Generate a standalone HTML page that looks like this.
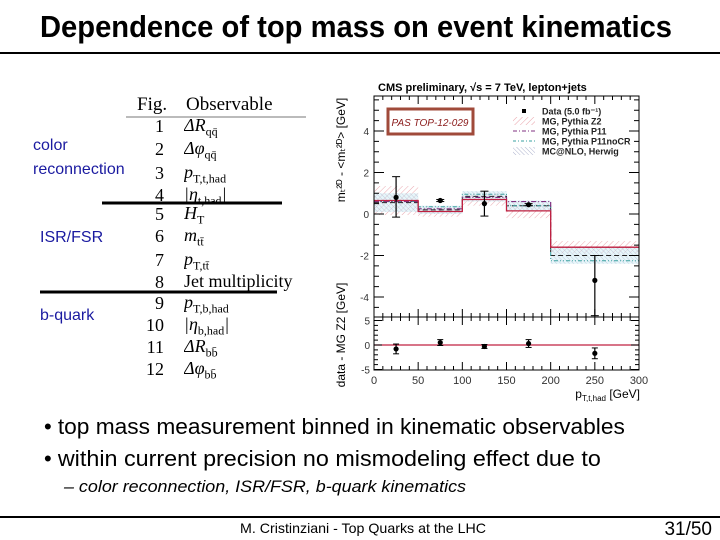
<!DOCTYPE html>
<html><head><meta charset="utf-8"><style>
html,body{margin:0;padding:0;background:#fff}
svg{display:block}
.nar{font-family:"Liberation Sans Narrow","Liberation Sans",sans-serif}
.ser{font-family:"Liberation Serif",serif}
.san{font-family:"Liberation Sans",sans-serif}
</style></head><body>
<svg id="s" width="720" height="540" viewBox="0 0 720 540" xmlns="http://www.w3.org/2000/svg">
<defs>
<pattern id="hatchR" width="4" height="4" patternUnits="userSpaceOnUse" patternTransform="rotate(45)"><line x1="0" y1="0" x2="0" y2="4" stroke="#e8a0a8" stroke-width="1"/></pattern>
<pattern id="hatchB" width="3" height="3" patternUnits="userSpaceOnUse" patternTransform="rotate(-45)"><line x1="0" y1="0" x2="0" y2="3" stroke="#9aa0c0" stroke-width="0.8"/></pattern>
</defs>
<text class="nar" x="356" y="37" font-size="31" font-weight="bold" text-anchor="middle" textLength="632" lengthAdjust="spacingAndGlyphs">Dependence of top mass on event kinematics</text>
<rect x="0" y="52" width="720" height="2" fill="#000"/>

<g class="ser" font-size="18">
<text x="137" y="110" font-size="19">Fig.</text>
<text x="186" y="110" font-size="19">Observable</text>
<line x1="126" y1="117" x2="306" y2="117" stroke="#777" stroke-width="1"/>
<g id="rows"></g>
<line x1="102" y1="203" x2="282" y2="203" stroke="#000" stroke-width="3"/>
<line x1="40" y1="292" x2="277" y2="292" stroke="#000" stroke-width="3"/>
</g>
<g class="san" font-size="16" fill="#1a1aa0">
<text x="33" y="150">color</text>
<text x="33" y="174">reconnection</text>
<text x="40" y="242">ISR/FSR</text>
<text x="40" y="320">b-quark</text>
</g>

<g id="chart" class="san"></g>

<g class="nar" font-size="22">
<text x="44" y="434">• <tspan textLength="567" lengthAdjust="spacingAndGlyphs">top mass measurement binned in kinematic observables</tspan></text>
<text x="44" y="466">• <tspan textLength="543" lengthAdjust="spacingAndGlyphs">within current precision no mismodeling effect due to</tspan></text>
<text x="64" y="492" font-size="17" font-style="italic" textLength="402" lengthAdjust="spacingAndGlyphs">– color reconnection, ISR/FSR, b-quark kinematics</text>
</g>
<rect x="0" y="516" width="720" height="2" fill="#000"/>
<text class="nar" x="363" y="533" font-size="14" text-anchor="middle" textLength="246" lengthAdjust="spacingAndGlyphs">M. Cristinziani - Top Quarks at the LHC</text>
<text class="nar" x="712" y="535" font-size="19" text-anchor="end">31/50</text>
</svg>
<script>
const NS="http://www.w3.org/2000/svg";
const rowNums=["1","2","3","4","5","6","7","8","9","10","11","12"];
const rowObs=["ΔR<sub>qq̄</sub>","Δφ<sub>qq̄</sub>","p<sub>T,t,had</sub>","|η<sub>t,had</sub>|","H<sub>T</sub>","m<sub>tt̄</sub>","p<sub>T,tt̄</sub>","Jet multiplicity","p<sub>T,b,had</sub>","|η<sub>b,had</sub>|","ΔR<sub>bb̄</sub>","Δφ<sub>bb̄</sub>"];
const rowY=[132,155,179,201,220,242,266,288,309,331,353,375];

// chart data
const bins=[0,50,100,150,200,300];
const z2=[0.65,0.12,0.7,0.15,-1.6];
const z2Err=[0.7,0.25,0.3,0.35,0.3];
const p11=[0.6,0.25,0.8,0.6,-1.6];
const p11nocr=[0.6,0.35,0.95,0.4,-2.25];
const herwig=[0.55,0.2,0.85,0.4,-2.0];
const herwigErr=[0.45,0.2,0.25,0.25,0.4];
const dataX=[25,75,125,175,250];
const dataY=[0.8,0.65,0.5,0.45,-3.2];
const dataErrHi=[1.0,0.05,0.6,0.05,1.2];
const dataErrLo=[0.95,0.05,0.6,0.05,1.7];
const ratioY=[-0.8,0.5,-0.3,0.3,-1.7];
const ratioErr=[1.0,0.6,0.4,0.8,1.1];
const xTicks=[0,50,100,150,200,250,300];
const yTicks=[-4,-2,0,2,4];
const rTicks=[-5,0,5];

function el(t,a,p){const e=document.createElementNS(NS,t);for(const k in a)e.setAttribute(k,a[k]);(p||document.getElementById('chart')).appendChild(e);return e;}
const rows=document.getElementById('rows');
rowNums.forEach((n,i)=>{
 const t=el('text',{x:164,y:rowY[i],'text-anchor':'end'},rows);t.textContent=n;
 
 
 const f=el('foreignObject',{x:184,y:rowY[i]-17,width:130,height:24},rows);
 
 
 f.innerHTML='<div xmlns="http://www.w3.org/1999/xhtml" style="font:italic 18px \'Liberation Serif\',serif;line-height:20px;white-space:nowrap">'+rowObs[i].replace(/<sub>/g,'<sub style="font-size:12px;font-style:normal">')+'</div>';
 if(i===7)f.firstChild.style.fontStyle='normal';
});

const X0=374,X1=639;
const sx=v=>X0+(v-0)*(X1-X0)/300;
const sy=v=>214-v*20.75;
const ry=v=>345-v*4.9;
const TOP=96,MID=317,BOT=370;
const c=document.getElementById('chart');
let t=el('text',{x:378,y:91,'font-size':11,'font-weight':'bold'});t.textContent="CMS preliminary,  √s = 7 TeV, lepton+jets";


// bands and lines
for(let i=0;i<5;i++){
 const a=sx(bins[i]),b=sx(bins[i+1]);
 let r=el('rect',{x:a,y:sy(z2[i]+z2Err[i]),width:b-a,height:sy(z2[i]-z2Err[i])-sy(z2[i]+z2Err[i]),fill:'url(#hatchR)',opacity:0.9});
 
 r=el('rect',{x:a,y:sy(herwig[i]+herwigErr[i]),width:b-a,height:sy(herwig[i]-herwigErr[i])-sy(herwig[i]+herwigErr[i]),fill:'#cfeef5',opacity:0.5});
 
 r=el('rect',{x:a,y:sy(herwig[i]+herwigErr[i]),width:b-a,height:sy(herwig[i]-herwigErr[i])-sy(herwig[i]+herwigErr[i]),fill:'url(#hatchB)',opacity:0.6});
 
}
function step(vals,attrs,name){
 let d='';for(let i=0;i<5;i++){d+=(i?'L':'M')+sx(bins[i])+','+sy(vals[i])+'L'+sx(bins[i+1])+','+sy(vals[i]);}
 const p=el('path',Object.assign({d:d,fill:'none'},attrs));
 
}
step(herwig,{stroke:'#222','stroke-width':1,'stroke-dasharray':'5,3'},'herwig-line');
step(p11nocr,{stroke:'#3aa0a0','stroke-width':1,'stroke-dasharray':'4,2,1,2,1,2'},'p11nocr-line');
step(p11,{stroke:'#803080','stroke-width':1.2,'stroke-dasharray':'5,2,1,2'},'p11-line');
step(z2,{stroke:'#c02040','stroke-width':1.3},'z2-line');

// data
dataX.forEach((x,i)=>{
 const hi=Math.min(sy(dataY[i]+dataErrHi[i]),MID),lo=Math.min(sy(dataY[i]-dataErrLo[i]),MID);
 let l=el('line',{x1:sx(x),x2:sx(x),y1:sy(dataY[i]+dataErrHi[i]),y2:lo,stroke:'#000','stroke-width':1.2});
 
 el('line',{x1:sx(x)-4,x2:sx(x)+4,y1:sy(dataY[i]+dataErrHi[i]),y2:sy(dataY[i]+dataErrHi[i]),stroke:'#000'});
 if(sy(dataY[i]-dataErrLo[i])<MID) el('line',{x1:sx(x)-4,x2:sx(x)+4,y1:lo,y2:lo,stroke:'#000'});
 const p=el('circle',{cx:sx(x),cy:sy(dataY[i]),r:2.6,fill:'#000'});
 
});
// ratio
let rl=el('line',{x1:X0,x2:X1,y1:ry(0),y2:ry(0),stroke:'#c02040','stroke-width':1.3});

dataX.forEach((x,i)=>{
 el('line',{x1:sx(x),x2:sx(x),y1:ry(ratioY[i]+ratioErr[i]),y2:ry(ratioY[i]-ratioErr[i]),stroke:'#000','stroke-width':1.2});
 el('line',{x1:sx(x)-3,x2:sx(x)+3,y1:ry(ratioY[i]+ratioErr[i]),y2:ry(ratioY[i]+ratioErr[i]),stroke:'#000'});
 el('line',{x1:sx(x)-3,x2:sx(x)+3,y1:ry(ratioY[i]-ratioErr[i]),y2:ry(ratioY[i]-ratioErr[i]),stroke:'#000'});
 const p=el('circle',{cx:sx(x),cy:ry(ratioY[i]),r:2.6,fill:'#000'});
 
});
// frames
let fr=el('rect',{x:X0,y:TOP,width:X1-X0,height:MID-TOP,fill:'none',stroke:'#000','stroke-width':1});

fr=el('rect',{x:X0,y:MID,width:X1-X0,height:BOT-MID,fill:'none',stroke:'#000','stroke-width':1});

// x ticks
for(let v=0;v<=300;v+=10){
 const maj=v%50===0, L=maj?8:4;
 [TOP,MID].forEach(y0=>el('line',{x1:sx(v),x2:sx(v),y1:y0,y2:y0+L,stroke:'#000'}));
 [MID,BOT].forEach(y0=>el('line',{x1:sx(v),x2:sx(v),y1:y0,y2:y0-L,stroke:'#000'}));
}
xTicks.forEach(v=>{const t=el('text',{x:sx(v),y:384,'font-size':11,'text-anchor':'middle',fill:'#333'});t.textContent=v;
 });
for(let v=-4.5;v<=5.5;v+=0.5){const y=sy(v);if(y<TOP||y>MID)continue;const L=(v%2===0)?10:5;
 el('line',{x1:X0,x2:X0+L,y1:y,y2:y,stroke:'#000'});el('line',{x1:X1,x2:X1-L,y1:y,y2:y,stroke:'#000'});}
yTicks.forEach(v=>{const t=el('text',{x:X0-5,y:sy(v)+4,'font-size':10,'text-anchor':'end',fill:'#333'});t.textContent=v;
 });
for(let v=-5;v<=5;v+=1){const y=ry(v);const L=(v%5===0)?8:4;
 el('line',{x1:X0,x2:X0+L,y1:y,y2:y,stroke:'#000'});el('line',{x1:X1,x2:X1-L,y1:y,y2:y,stroke:'#000'});}
rTicks.forEach(v=>{const t=el('text',{x:X0-4,y:ry(v)+4,'font-size':10,'text-anchor':'end',fill:'#333'});t.textContent=v;
 });
t=el('text',{x:640,y:398,'font-size':12,'text-anchor':'end'});t.innerHTML='p<tspan font-size="8" dy="3">T,t,had</tspan><tspan dy="-3"> [GeV]</tspan>';

t=el('text',{x:0,y:0,'font-size':12,'text-anchor':'middle',transform:'translate(345,150) rotate(-90)'});t.textContent='m\u209C\u00B2ᴰ - <m\u209C\u00B2ᴰ> [GeV]';

t=el('text',{x:0,y:0,'font-size':12,'text-anchor':'middle',transform:'translate(345,335) rotate(-90)'});t.textContent='data - MG Z2 [GeV]';

// PAS box
let bx=el('rect',{x:388,y:109,width:85,height:25,fill:'#fff',stroke:'#a04a3a','stroke-width':3});

t=el('text',{x:430,y:126,'font-size':10,'text-anchor':'middle',fill:'#8a1a1a','font-style':'italic',class:'nar'});t.textContent='PAS TOP-12-029';

// legend
const legTxt=["Data (5.0 fb\u207B\u00B9)","MG, Pythia Z2","MG, Pythia P11","MG, Pythia P11noCR","MC@NLO, Herwig"];
legTxt.forEach((s,i)=>{const y=111+i*10;
 if(i===0)el('rect',{x:522,y:y-2,width:4,height:4,fill:'#000'});
 else if(i===1)el('rect',{x:513,y:y-4,width:22,height:8,fill:'url(#hatchR)'});
 else if(i===2)el('line',{x1:513,x2:535,y1:y,y2:y,stroke:'#803080','stroke-dasharray':'4,2,1,2'});
 else if(i===3)el('line',{x1:513,x2:535,y1:y,y2:y,stroke:'#3aa0a0','stroke-dasharray':'3,2,1,2'});
 else el('rect',{x:513,y:y-4,width:22,height:8,fill:'url(#hatchB)'});
 const tt=el('text',{x:542,y:y+3.5,'font-size':9,'font-weight':'bold',fill:'#222'});tt.textContent=s;
 
});
</script>
</body></html>
